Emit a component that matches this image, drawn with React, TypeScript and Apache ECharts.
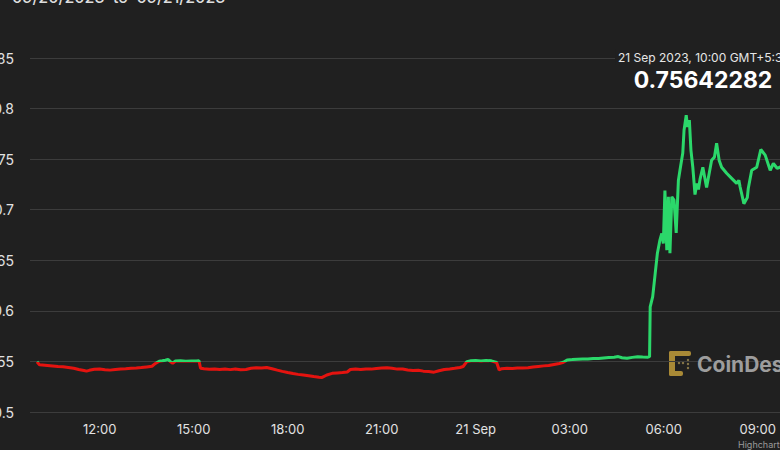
import React, { useEffect, useRef } from "react";
import * as echarts from "echarts";

// hours counted from 20 Sep 2023 00:00 (GMT+5:30)
const hours: number[] = [
  10.0, 10.08, 10.17, 10.33, 10.5, 10.67, 10.83, 11.0, 11.17, 11.33, 11.5, 11.58, 11.67, 11.83,
  12.0, 12.17, 12.33, 12.5, 12.67, 12.83, 13.0, 13.17, 13.33, 13.5, 13.67, 13.78, 13.9, 14.0,
  14.1, 14.18, 14.25, 14.33, 14.42, 14.58, 14.75, 14.92, 15.08, 15.17, 15.22, 15.33, 15.5, 15.67,
  15.83, 16.0, 16.17, 16.33, 16.5, 16.67, 16.83, 17.0, 17.17, 17.33, 17.5, 17.67, 17.83, 18.0,
  18.17, 18.33, 18.5, 18.67, 18.83, 19.0, 19.1, 19.25, 19.42, 19.58, 19.75, 19.9, 20.0, 20.17,
  20.33, 20.5, 20.67, 20.83, 21.0, 21.17, 21.33, 21.5, 21.67, 21.83, 22.0, 22.17, 22.33, 22.5,
  22.67, 22.83, 23.0, 23.17, 23.33, 23.5, 23.6, 23.72, 23.85, 24.0, 24.17, 24.33, 24.5, 24.67,
  24.75, 24.83, 25.0, 25.17, 25.33, 25.5, 25.67, 25.83, 26.0, 26.17, 26.33, 26.5, 26.67, 26.8,
  26.92, 27.08, 27.25, 27.42, 27.58, 27.75, 27.92, 28.08, 28.25, 28.42, 28.55, 28.67, 28.83, 29.0,
  29.17, 29.33, 29.5, 29.55, 29.57, 29.65, 29.73, 29.8, 29.88, 29.94, 29.99, 30.04, 30.1, 30.15,
  30.2, 30.26, 30.33, 30.4, 30.47, 30.52, 30.61, 30.65, 30.72, 30.76, 30.82, 30.87, 30.93, 31.0,
  31.06, 31.11, 31.16, 31.25, 31.37, 31.53, 31.62, 31.69, 31.77, 31.85, 32.01, 32.17, 32.33, 32.4,
  32.44, 32.56, 32.67, 32.7, 32.81, 32.97, 33.1, 33.24, 33.4, 33.5, 33.62, 33.72, 33.85, 34.0,
];

const prices: number[] = [
  0.5497, 0.5466, 0.5464, 0.546, 0.5455, 0.545, 0.5448, 0.544, 0.5432, 0.542, 0.541, 0.5404, 0.5412, 0.5422,
  0.5425, 0.5418, 0.5414, 0.542, 0.5426, 0.5428, 0.5432, 0.5436, 0.544, 0.5446, 0.5452, 0.548, 0.5502, 0.5506,
  0.5512, 0.552, 0.55, 0.5482, 0.5504, 0.5506, 0.5503, 0.5505, 0.5504, 0.5506, 0.5432, 0.5428, 0.5422, 0.5426,
  0.542, 0.5424, 0.5419, 0.5425, 0.5418, 0.542, 0.5432, 0.5438, 0.5436, 0.544, 0.5428, 0.5414, 0.5402, 0.539,
  0.538, 0.5372, 0.5366, 0.5358, 0.535, 0.5344, 0.5342, 0.5366, 0.5382, 0.5386, 0.539, 0.5396, 0.542, 0.5424,
  0.542, 0.5426, 0.5424, 0.543, 0.5434, 0.5438, 0.5432, 0.5424, 0.5426, 0.5416, 0.541, 0.5412, 0.5404, 0.54,
  0.5394, 0.5408, 0.542, 0.5426, 0.5432, 0.544, 0.545, 0.5498, 0.5506, 0.5508, 0.5505, 0.551, 0.5506, 0.549,
  0.5416, 0.5428, 0.5432, 0.543, 0.5434, 0.5436, 0.5438, 0.5444, 0.545, 0.5456, 0.546, 0.547, 0.548, 0.5492,
  0.5515, 0.5518, 0.5522, 0.5525, 0.5524, 0.5528, 0.553, 0.5534, 0.5538, 0.5542, 0.5548, 0.5536, 0.5532, 0.554,
  0.5546, 0.5544, 0.5542, 0.5547, 0.604, 0.614, 0.637, 0.657, 0.67, 0.6765, 0.6667, 0.719, 0.66, 0.7127,
  0.657, 0.7127, 0.7095, 0.677, 0.729, 0.739, 0.756, 0.7786, 0.7934, 0.782, 0.7885, 0.759, 0.742, 0.715,
  0.726, 0.72, 0.73, 0.742, 0.722, 0.749, 0.752, 0.7657, 0.749, 0.742, 0.736, 0.731, 0.726, 0.729,
  0.7225, 0.706, 0.712, 0.721, 0.739, 0.742, 0.7595, 0.754, 0.739, 0.7457, 0.741, 0.742, 0.748, 0.75642282,
];

const xMinHour = 9; // axis origin (multiple of the 3 h tick interval)
const xMaxHour = 34;
const tickIntervalHours = 3;
const firstLabelHour = 12;
const yMin = 0.5;
const yMax = 0.85;
const yInterval = 0.05;
const openPrice = 0.5496;
const titleText = "09/20/2023  to  09/21/2023";
const tooltipDate = "21 Sep 2023, 10:00 GMT+5:30";
const tooltipValue = "0.75642282";

const RED = "#e5130f";
const GREEN = "#2bd86a";
const BG = "#202020";
const FONT = "Inter, 'Liberation Sans', Arial, sans-serif";

// offsets of the (larger) chart box relative to the visible page
const OX = 20;
const OY = 12;

export default function App() {
  const ref = useRef<HTMLDivElement>(null);

  useEffect(() => {
    if (!ref.current) return;
    const chart = echarts.init(ref.current, undefined, { renderer: "svg" });
    const data = hours.map((h, i) => [h, prices[i]]);
    const pad = (n: number) => (n < 10 ? "0" + n : "" + n);

    chart.setOption({
      animation: false,
      backgroundColor: BG,
      textStyle: { fontFamily: FONT },
      grid: [
        // grid holding the value axis labels and gridlines
        { left: 50, right: 11, top: 70, bottom: 46, containLabel: false },
        // grid holding the data and time axis
        { left: 25.67, right: 11, top: 70, bottom: 46, containLabel: false },
      ],
      xAxis: [
        { gridIndex: 0, type: "value", min: 0, max: 1, show: false },
        {
          gridIndex: 1,
          type: "value",
          min: xMinHour,
          max: xMaxHour,
          interval: tickIntervalHours,
          axisLine: { show: false },
          axisTick: { show: false },
          splitLine: { show: false },
          axisLabel: {
            color: "#e2e2e2",
            fontSize: 13,
            fontFamily: FONT,
            margin: 10,
            showMinLabel: false,
            showMaxLabel: false,
            formatter: (v: number) => {
              if (v < firstLabelHour || v % tickIntervalHours !== 0) return "";
              return v === 24 ? "21 Sep" : pad(Math.round(v) % 24) + ":00";
            },
          },
        },
      ],
      yAxis: [
        {
          gridIndex: 0,
          type: "value",
          min: yMin,
          max: yMax,
          interval: yInterval,
          axisLine: { show: false },
          axisTick: { show: false },
          splitLine: { show: true, lineStyle: { color: "#3c3c3c", width: 1 } },
          axisLabel: {
            color: "#e2e2e2",
            fontSize: 14,
            fontFamily: FONT,
            margin: 16,
            formatter: (v: number) => String(+v.toFixed(2)),
          },
        },
        { gridIndex: 1, type: "value", min: yMin, max: yMax, interval: yInterval, show: false },
      ],
      visualMap: {
        show: false,
        type: "piecewise",
        dimension: 1,
        seriesIndex: 0,
        pieces: [
          { gte: 0, lt: openPrice, color: RED },
          { gte: openPrice, lte: 10, color: GREEN },
        ],
      },
      series: [
        {
          type: "line",
          xAxisIndex: 1,
          yAxisIndex: 1,
          data,
          showSymbol: false,
          symbol: "none",
          lineStyle: { width: 3 },
          z: 3,
        },
      ],
      graphic: [
        {
          type: "text",
          z: 100,
          x: 12 + OX,
          y: -3 + OY,
          style: {
            text: titleText,
            fill: "#dddddd",
            font: `500 16px ${FONT}`,
            verticalAlign: "middle",
            align: "left",
          },
        },
        {
          type: "text",
          z: 100,
          x: 704 + OX,
          y: 57 + OY,
          style: {
            text: tooltipDate,
            fill: "#e6e6e6",
            font: `12px ${FONT}`,
            align: "center",
            verticalAlign: "middle",
            backgroundColor: BG,
            padding: [2, 3],
          },
        },
        {
          type: "text",
          z: 100,
          x: 703 + OX,
          y: 80 + OY,
          style: {
            text: tooltipValue,
            fill: "#ffffff",
            font: `bold 23px ${FONT}`,
            align: "center",
            verticalAlign: "middle",
          },
        },
        {
          type: "group",
          z: 1,
          x: 669 + OX,
          y: 351 + OY,
          children: [
            { type: "rect", shape: { x: 0, y: 0, width: 22, height: 5, r: 2 }, style: { fill: "#a98a36" } },
            { type: "rect", shape: { x: 0, y: 0, width: 6, height: 25, r: 2 }, style: { fill: "#a98a36" } },
            { type: "rect", shape: { x: 0, y: 20, width: 14, height: 5, r: 2 }, style: { fill: "#a98a36" } },
            { type: "circle", shape: { cx: 19, cy: 9, r: 1.2 }, style: { fill: "#8a7a4a" } },
            { type: "circle", shape: { cx: 19, cy: 13, r: 1.2 }, style: { fill: "#8a7a4a" } },
            { type: "circle", shape: { cx: 19, cy: 17, r: 1.2 }, style: { fill: "#8a7a4a" } },
            { type: "circle", shape: { cx: 10, cy: 12, r: 1.2 }, style: { fill: "#8a7a4a" } },
            { type: "circle", shape: { cx: 14, cy: 12, r: 1.2 }, style: { fill: "#8a7a4a" } },
          ],
        },
        {
          type: "text",
          z: 1,
          x: 697 + OX,
          y: 364 + OY,
          style: {
            text: "CoinDesk",
            fill: "#9d9d9d",
            font: `bold 21px ${FONT}`,
            verticalAlign: "middle",
            align: "left",
          },
        },
        {
          type: "text",
          z: 100,
          x: 738 + OX,
          y: 444 + OY,
          style: {
            text: "Highcharts.com",
            fill: "#9a9a9a",
            font: `9px ${FONT}`,
            verticalAlign: "middle",
            align: "left",
          },
        },
      ],
    });

    return () => chart.dispose();
  }, []);

  return (
    <div
      ref={ref}
      style={{ position: "fixed", left: -OX, top: -OY, width: 820, height: 470 }}
    />
  );
}
